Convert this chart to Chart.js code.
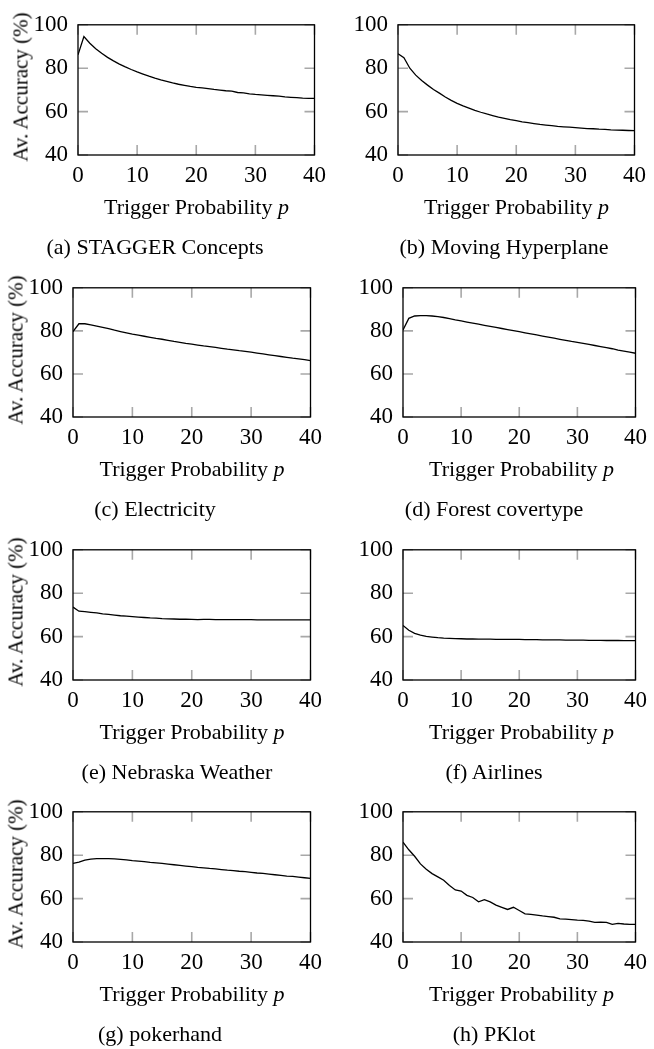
<!DOCTYPE html>
<html>
<head>
<meta charset="utf-8">
<script src="https://cdn.jsdelivr.net/npm/chart.js@4.4.0/dist/chart.umd.min.js"></script>
<style>
  html, body { margin: 0; padding: 0; background: #fff; }
  body { width: 654px; height: 1049px; position: relative; overflow: hidden; color: #000;
         font-family: 'Liberation Serif', serif; }
  canvas { position: absolute; }
  .txt { position: absolute; white-space: nowrap; font-family: 'Liberation Serif', serif;
         font-size: 22px; line-height: 22px; transform: translateX(-50%); }
  .ytitle { position: absolute; white-space: nowrap; font-family: 'Liberation Serif', serif;
            font-size: 21px; line-height: 21px; transform: translate(-50%, -50%) rotate(-90deg); }
</style>
</head>
<body>
<script>
// x values (trigger probability p)
var pValues = [0, 1, 2, 3, 4, 5, 6, 7, 8, 9, 10, 11, 12, 13, 14, 15, 16, 17, 18, 19, 20,
               21, 22, 23, 24, 25, 26, 27, 28, 29, 30, 31, 32, 33, 34, 35, 36, 37, 38, 39, 40];

// average accuracy (%) per dataset
var stagger = [86.2, 94.6, 91.5, 89.0, 86.9, 85.0, 83.4, 81.9, 80.6, 79.4, 78.3, 77.3, 76.3, 75.4, 74.6,
               73.9, 73.2, 72.6, 72.1, 71.6, 71.2, 70.9, 70.6, 70.2, 69.9, 69.6, 69.4, 68.8, 68.6, 68.2,
               67.9, 67.7, 67.5, 67.3, 67.1, 66.8, 66.6, 66.4, 66.2, 66.1, 66.1];
var hyperplane = [86.7, 84.8, 80.0, 76.8, 74.3, 72.2, 70.2, 68.5, 66.7, 65.2, 63.8, 62.6, 61.6, 60.6, 59.7,
                  58.9, 58.2, 57.5, 56.9, 56.3, 55.8, 55.3, 54.9, 54.5, 54.1, 53.8, 53.5, 53.2, 53.0, 52.8,
                  52.6, 52.4, 52.2, 52.1, 51.9, 51.8, 51.6, 51.5, 51.4, 51.3, 51.2];
var electricity = [79.7, 83.3, 83.3, 82.8, 82.2, 81.6, 81.0, 80.3, 79.7, 79.1, 78.5, 78.0, 77.5, 77.0, 76.5,
                   76.1, 75.6, 75.1, 74.7, 74.2, 73.8, 73.4, 73.0, 72.7, 72.3, 71.9, 71.5, 71.2, 70.8, 70.5,
                   70.1, 69.7, 69.3, 68.9, 68.5, 68.1, 67.7, 67.3, 67.0, 66.6, 66.2];
var forest = [80.4, 85.8, 86.9, 87.1, 87.1, 86.9, 86.6, 86.2, 85.7, 85.1, 84.6, 84.1, 83.6, 83.1, 82.6,
              82.1, 81.6, 81.1, 80.6, 80.1, 79.6, 79.1, 78.6, 78.1, 77.6, 77.1, 76.6, 76.1, 75.6, 75.1,
              74.7, 74.2, 73.7, 73.2, 72.7, 72.2, 71.7, 71.1, 70.6, 70.1, 69.6];
var nebraska = [73.6, 71.7, 71.5, 71.2, 70.9, 70.5, 70.2, 69.9, 69.6, 69.4, 69.2, 69.0, 68.8, 68.6, 68.5,
                68.3, 68.2, 68.1, 68.0, 68.0, 67.9, 67.8, 67.9, 67.9, 67.8, 67.8, 67.8, 67.8, 67.8, 67.8,
                67.8, 67.7, 67.7, 67.7, 67.7, 67.7, 67.7, 67.7, 67.7, 67.7, 67.7];
var airlines = [65.1, 62.9, 61.5, 60.7, 60.1, 59.8, 59.5, 59.3, 59.2, 59.1, 59.0, 58.9, 58.9, 58.8, 58.8,
                58.8, 58.7, 58.7, 58.7, 58.7, 58.7, 58.6, 58.6, 58.6, 58.5, 58.5, 58.5, 58.5, 58.4, 58.4,
                58.4, 58.4, 58.3, 58.3, 58.3, 58.2, 58.2, 58.2, 58.1, 58.1, 58.1];
var pokerhand = [76.2, 76.8, 77.7, 78.2, 78.4, 78.4, 78.4, 78.3, 78.1, 77.8, 77.5, 77.3, 77.0, 76.7, 76.5,
                 76.2, 75.9, 75.6, 75.3, 75.0, 74.7, 74.4, 74.2, 73.9, 73.7, 73.4, 73.1, 72.9, 72.6, 72.4,
                 72.1, 71.8, 71.6, 71.3, 71.0, 70.7, 70.4, 70.2, 69.9, 69.6, 69.3];
var pklot = [86.0, 82.5, 79.5, 76.0, 73.5, 71.5, 70.0, 68.5, 66.0, 64.0, 63.5, 61.5, 60.5, 58.5, 59.5,
             58.5, 57.0, 56.0, 55.0, 56.0, 54.5, 53.0, 52.7, 52.4, 52.0, 51.7, 51.4, 50.7, 50.5, 50.3,
             50.1, 50.0, 49.6, 49.0, 49.1, 49.0, 48.1, 48.6, 48.3, 48.1, 48.1];

var seriesList = [stagger, hyperplane, electricity, forest, nebraska, airlines, pokerhand, pklot];
var captions = ['(a) STAGGER Concepts', '(b) Moving Hyperplane', '(c) Electricity', '(d) Forest covertype',
                '(e) Nebraska Weather', '(f) Airlines', '(g) pokerhand', '(h) PKlot'];
var xTicks = [0, 10, 20, 30, 40];
var yTicks = [40, 60, 80, 100];

// plot boxes (page pixels) and caption centres
var boxes = [
  {l: 78,  t: 19,  r: 315, b: 155}, {l: 398, t: 19,  r: 635, b: 155},
  {l: 73,  t: 282, r: 311, b: 417}, {l: 403, t: 282, r: 640, b: 417},
  {l: 73,  t: 544, r: 311, b: 680}, {l: 403, t: 544, r: 640, b: 680},
  {l: 73,  t: 806, r: 311, b: 942}, {l: 403, t: 806, r: 640, b: 942}
];
var captionX = [155, 504, 155, 494, 177, 494, 160, 494];

Chart.defaults.font.family = "'Liberation Serif', serif";
var tickFont = {family: "'Liberation Serif', serif", size: 23};

// pgfplots-style frame with grey inward ticks on all four sides
var framePlugin = {
  id: 'frame',
  beforeDatasetsDraw: function(chart) {
    var ctx = chart.ctx, a = chart.chartArea;
    var xs = chart.scales.x, ys = chart.scales.y;
    ctx.save();
    ctx.strokeStyle = '#a8a8a8';
    ctx.lineWidth = 1.6;
    ctx.beginPath();
    xs.ticks.forEach(function(t) {
      var px = xs.getPixelForValue(t.value);
      ctx.moveTo(px, a.bottom); ctx.lineTo(px, a.bottom - 10);
      ctx.moveTo(px, a.top); ctx.lineTo(px, a.top + 10);
    });
    ys.ticks.forEach(function(t) {
      var py = ys.getPixelForValue(t.value);
      ctx.moveTo(a.left, py); ctx.lineTo(a.left + 10, py);
      ctx.moveTo(a.right, py); ctx.lineTo(a.right - 10, py);
    });
    ctx.stroke();
    ctx.restore();
  },
  afterDatasetsDraw: function(chart) {
    var ctx = chart.ctx, a = chart.chartArea;
    ctx.save();
    ctx.strokeStyle = '#000';
    ctx.lineWidth = 1.3;
    ctx.strokeRect(a.left, a.top, a.right - a.left, a.bottom - a.top);
    ctx.restore();
  }
};

function addText(cls, html, left, top) {
  var d = document.createElement('div');
  d.className = cls;
  d.innerHTML = html;
  d.style.left = left + 'px';
  d.style.top = top + 'px';
  document.body.appendChild(d);
}

function makePanel(i) {
  var box = boxes[i];
  var colLeft = box.l < 327 ? 0 : 327;
  var padR = Math.min(18, 654 - box.r);
  var canvasTop = box.t - 18;
  var w = box.r + padR - colLeft;
  var h = box.b + 40 - canvasTop;

  var canvas = document.createElement('canvas');
  canvas.width = w; canvas.height = h;
  canvas.style.left = colLeft + 'px';
  canvas.style.top = canvasTop + 'px';
  canvas.style.width = w + 'px';
  canvas.style.height = h + 'px';
  document.body.appendChild(canvas);

  var values = seriesList[i];
  new Chart(canvas.getContext('2d'), {
    type: 'line',
    data: {
      datasets: [{
        data: pValues.map(function(p, k) { return {x: p, y: values[k]}; }),
        borderColor: '#000',
        borderWidth: 1.3,
        pointRadius: 0,
        tension: 0,
        fill: false
      }]
    },
    options: {
      responsive: false,
      animation: false,
      devicePixelRatio: 1,
      layout: {padding: {top: 18, right: padR, left: 0, bottom: 0}},
      plugins: {legend: {display: false}, tooltip: {enabled: false}},
      scales: {
        x: {
          type: 'linear', min: xTicks[0], max: xTicks[xTicks.length - 1],
          afterBuildTicks: function(s) { s.ticks = xTicks.map(function(v) { return {value: v}; }); },
          ticks: {color: '#000', font: tickFont, padding: 7, maxRotation: 0, autoSkip: false},
          grid: {display: false, drawTicks: false},
          border: {display: false},
          afterFit: function(s) { s.height = 40; }
        },
        y: {
          type: 'linear', min: yTicks[0], max: yTicks[yTicks.length - 1],
          afterBuildTicks: function(s) { s.ticks = yTicks.map(function(v) { return {value: v}; }); },
          ticks: {color: '#000', font: tickFont, padding: 10, autoSkip: false},
          grid: {display: false, drawTicks: false},
          border: {display: false},
          afterFit: function(s) { s.width = box.l - colLeft; }
        }
      }
    },
    plugins: [framePlugin]
  });

  var cx = (box.l + box.r) / 2;
  addText('txt', 'Trigger Probability <i>p</i>', cx, box.b + 41);
  addText('txt', captions[i], captionX[i], box.b + 81);
  if (colLeft === 0) {
    addText('ytitle', 'Av. Accuracy (%)', box.l - 57, (box.t + box.b) / 2);
  }
}

for (var i = 0; i < boxes.length; i++) makePanel(i);
</script>
</body>
</html>
